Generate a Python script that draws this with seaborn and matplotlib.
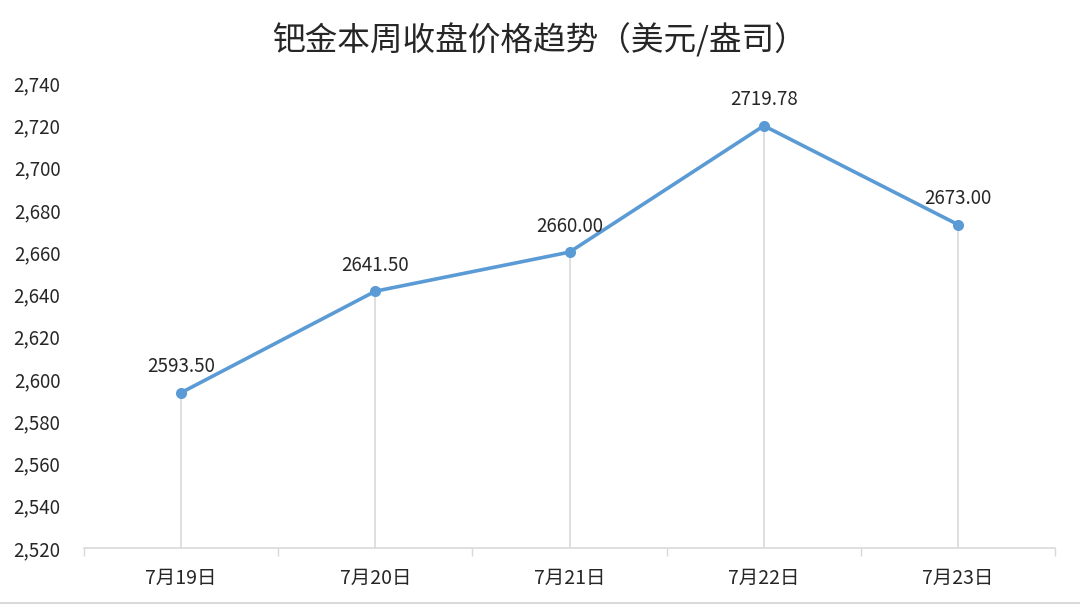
import matplotlib
matplotlib.use('Agg')
import matplotlib.pyplot as plt
import seaborn as sns
import pandas as pd

# chart data
dates = ['7月19日', '7月20日', '7月21日', '7月22日', '7月23日']
prices = [2593.50, 2641.50, 2660.00, 2719.78, 2673.00]
y_ticks = list(range(2520, 2741, 20))

df = pd.DataFrame({'date': dates, 'price': prices})

sns.set_style('white')
plt.rcParams['font.family'] = ['Noto Sans CJK SC', 'DejaVu Sans']

fig = plt.figure(figsize=(10.8, 6.05), dpi=100)
ax = fig.add_axes([0.0778, 0.0942, 0.8992, 0.7686])

line_color = '#5B9BD5'
sns.lineplot(data=df, x='date', y='price', ax=ax, color=line_color,
             linewidth=2.6, marker='o', markersize=8, markeredgewidth=0,
             sort=False, zorder=3)

# drop lines from each point down to the axis
ax.vlines(range(len(dates)), y_ticks[0], prices, colors='#d9d9d9',
          linewidth=1.2, zorder=1)

for i, p in enumerate(prices):
    ax.annotate(f'{p:.2f}', (i, p), xytext=(0, 11), textcoords='offset points',
                ha='center', va='bottom', fontsize=13.5, color='#262626')

ax.set_xlim(-0.5, len(dates) - 0.5)
ax.set_ylim(y_ticks[0], y_ticks[-1])
ax.set_yticks(y_ticks)
ax.set_yticklabels([f'{v:,}' for v in y_ticks])
ax.set_xticks(range(len(dates)))
ax.set_xticklabels(dates)
ax.set_xticks([i - 0.5 for i in range(len(dates) + 1)], minor=True)
ax.tick_params(axis='x', which='major', length=0, pad=14, labelsize=14,
               labelcolor='#262626')
ax.tick_params(axis='x', which='minor', length=6, width=1, color='#d9d9d9',
               direction='out', bottom=True)
ax.tick_params(axis='y', length=0, pad=17, labelsize=13.5, labelcolor='#262626')
ax.set_xlabel('')
ax.set_ylabel('')

for s in ['top', 'right', 'left']:
    ax.spines[s].set_visible(False)
ax.spines['bottom'].set_color('#d9d9d9')
ax.spines['bottom'].set_linewidth(1.2)

fig.suptitle('钯金本周收盘价格趋势（美元/盎司）', y=0.962, fontsize=23.5,
             color='#262626')

# light frame line at the bottom of the image
fig.add_artist(plt.Line2D([0, 1], [0.003, 0.003], transform=fig.transFigure,
                          color='#d9d9d9', linewidth=1.5))

fig.savefig('out.png', dpi=100)
